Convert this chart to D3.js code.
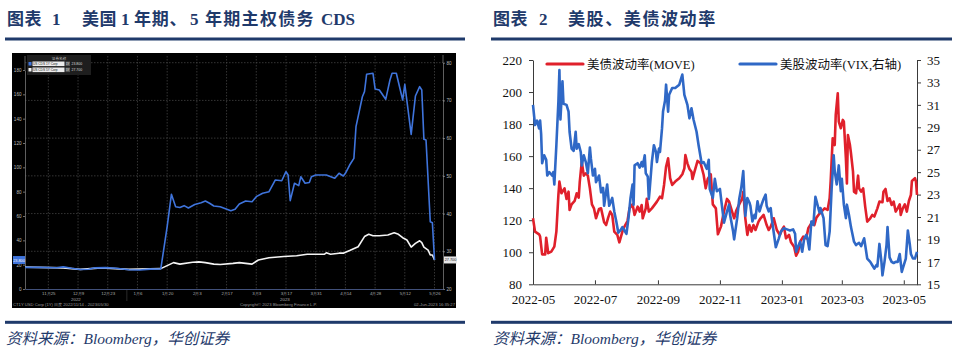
<!DOCTYPE html>
<html><head><meta charset="utf-8">
<script src="https://cdn.jsdelivr.net/npm/d3@7"></script>
<style>
body{margin:0;background:#fff;}
svg{display:block;}
</style></head><body>
<svg id="c" width="971" height="360"></svg>
<script>
// ---------------- LEFT CHART DATA (Bloomberg, US sovereign CDS) ----------------
const cdsRange = ["2022-11-14", "2023-05-30"];
const cds1Y = [["2022-11-14",17.8],["2022-11-21",17.8],["2022-11-29",17.5],["2022-12-02",18.2],["2022-12-06",17.0],["2022-12-10",16.0],["2022-12-14",16.2],["2022-12-17",17.4],["2022-12-22",17.6],["2022-12-27",17.0],["2023-01-02",15.8],["2023-01-07",15.6],["2023-01-12",16.3],["2023-01-17",16.5],["2023-01-20",51.2],["2023-01-22",77.8],["2023-01-24",67.6],["2023-01-26",67.0],["2023-01-28",68.5],["2023-01-30",66.6],["2023-02-02",69.5],["2023-02-05",70.9],["2023-02-07",72.3],["2023-02-09",70.5],["2023-02-11",68.2],["2023-02-14",67.6],["2023-02-19",64.4],["2023-02-21",65.5],["2023-02-23",69.9],["2023-02-26",72.3],["2023-03-01",71.7],["2023-03-03",75.9],["2023-03-06",78.7],["2023-03-09",80.0],["2023-03-12",89.6],["2023-03-15",89.0],["2023-03-17",96.4],["2023-03-18",93.7],["2023-03-19",72.6],["2023-03-21",86.9],["2023-03-23",85.0],["2023-03-24",92.3],["2023-03-26",86.9],["2023-03-28",87.5],["2023-03-29",92.3],["2023-03-31",93.7],["2023-04-05",93.7],["2023-04-09",91.0],["2023-04-11",95.1],["2023-04-13",92.9],["2023-04-14",95.1],["2023-04-16",101.9],["2023-04-18",107.4],["2023-04-19",133.4],["2023-04-22",158.0],["2023-04-23",162.2],["2023-04-24",176.5],["2023-04-27",177.3],["2023-04-28",164.4],["2023-04-30",163.6],["2023-05-03",155.9],["2023-05-05",171.8],["2023-05-06",177.3],["2023-05-08",177.3],["2023-05-11",155.3],["2023-05-12",168.2],["2023-05-15",127.1],["2023-05-17",158.6],["2023-05-19",166.3],["2023-05-20",163.6],["2023-05-21",123.0],["2023-05-22",122.5],["2023-05-24",55.3],["2023-05-25",54.5],["2023-05-26",23.8]];
const cds5Y = [["2022-11-14",25.8],["2022-12-02",25.6],["2022-12-10",25.2],["2022-12-20",25.6],["2023-01-02",25.2],["2023-01-17",25.4],["2023-01-23",27.0],["2023-01-26",26.6],["2023-02-01",27.1],["2023-02-04",27.2],["2023-02-07",27.0],["2023-02-11",26.6],["2023-02-14",26.5],["2023-02-20",26.8],["2023-02-23",27.0],["2023-03-01",26.6],["2023-03-04",27.7],["2023-03-09",28.3],["2023-03-16",28.6],["2023-03-22",28.8],["2023-03-27",29.2],["2023-04-04",29.2],["2023-04-05",29.6],["2023-04-07",29.2],["2023-04-11",29.5],["2023-04-13",29.5],["2023-04-16",30.2],["2023-04-20",31.2],["2023-04-23",33.9],["2023-04-25",34.5],["2023-04-27",34.1],["2023-04-30",34.1],["2023-05-04",34.3],["2023-05-07",34.9],["2023-05-09",34.5],["2023-05-11",33.6],["2023-05-13",33.0],["2023-05-15",31.1],["2023-05-17",32.1],["2023-05-19",32.8],["2023-05-20",32.3],["2023-05-21",31.1],["2023-05-23",30.3],["2023-05-24",29.0],["2023-05-25",29.0],["2023-05-26",27.7]];
const cdsLeftTicks = [0,20,40,60,80,100,120,140,160,180];
const cdsRightTicks = [20,30,40,50,60,70,80];
const cdsXTicks = ["2022-11-25","2022-12-09","2022-12-23","2023-01-06","2023-01-20","2023-02-03","2023-02-17","2023-03-03","2023-03-17","2023-03-31","2023-04-14","2023-04-28","2023-05-12","2023-05-26"];
const cdsYears = ["2022","2023"];
const cdsNames = ["US CDS 1Y Corp","US CDS 5Y Corp"];

// ---------------- RIGHT CHART DATA (MOVE / VIX) ----------------
const volRange = ["2022-05-01","2023-05-14"];
const moveSeries = [["2022-05-01",121.2],["2022-05-03",112.9],["2022-05-07",111.2],["2022-05-08",109.8],["2022-05-10",98.7],["2022-05-13",98.7],["2022-05-14",109.1],["2022-05-16",99.4],["2022-05-19",100.4],["2022-05-22",103.5],["2022-05-24",112.9],["2022-05-26",135.8],["2022-05-27",144.1],["2022-05-29",136.8],["2022-06-01",139.9],["2022-06-03",133.3],["2022-06-05",137.8],["2022-06-06",126.4],["2022-06-08",129.9],["2022-06-11",132.0],["2022-06-13",136.8],["2022-06-15",134.1],["2022-06-16",143.7],["2022-06-18",156.6],["2022-06-20",147.8],["2022-06-22",149.3],["2022-06-24",147.8],["2022-06-26",139.9],["2022-06-28",129.9],["2022-06-30",127.4],["2022-07-02",121.2],["2022-07-05",127.0],["2022-07-07",127.4],["2022-07-10",118.7],["2022-07-12",117.0],["2022-07-14",121.6],["2022-07-16",125.4],["2022-07-18",123.3],["2022-07-20",112.9],["2022-07-23",110.8],["2022-07-25",106.2],["2022-07-28",112.9],["2022-07-30",116.0],["2022-08-02",119.5],["2022-08-04",127.4],["2022-08-07",129.9],["2022-08-09",123.3],["2022-08-12",128.5],["2022-08-14",125.4],["2022-08-16",129.5],["2022-08-17",121.2],["2022-08-20",127.4],["2022-08-21",133.3],["2022-08-23",125.4],["2022-08-26",127.4],["2022-08-29",129.9],["2022-08-31",131.6],["2022-09-03",134.7],["2022-09-05",133.7],["2022-09-07",142.0],["2022-09-09",153.4],["2022-09-11",158.6],["2022-09-13",146.2],["2022-09-15",142.0],["2022-09-18",144.1],["2022-09-22",146.2],["2022-09-25",148.7],["2022-09-27",152.4],["2022-09-28",160.7],["2022-09-30",155.5],["2022-10-02",152.0],["2022-10-04",150.3],["2022-10-05",145.7],["2022-10-07",150.3],["2022-10-10",157.0],["2022-10-13",155.5],["2022-10-16",148.2],["2022-10-18",139.9],["2022-10-20",145.7],["2022-10-23",148.7],["2022-10-25",129.9],["2022-10-28",127.4],["2022-10-30",111.2],["2022-11-02",116.0],["2022-11-05",125.4],["2022-11-08",133.3],["2022-11-10",131.6],["2022-11-15",121.2],["2022-11-17",125.8],["2022-11-20",129.9],["2022-11-23",133.7],["2022-11-24",137.8],["2022-11-26",121.2],["2022-11-28",110.8],["2022-11-30",117.0],["2022-12-02",112.9],["2022-12-04",117.0],["2022-12-06",113.9],["2022-12-09",119.1],["2022-12-11",121.2],["2022-12-14",123.3],["2022-12-17",117.0],["2022-12-19",113.9],["2022-12-21",116.0],["2022-12-24",121.2],["2022-12-27",113.9],["2022-12-30",110.8],["2023-01-01",113.9],["2023-01-03",116.0],["2023-01-05",108.7],["2023-01-08",110.8],["2023-01-10",106.2],["2023-01-13",103.5],["2023-01-15",97.9],["2023-01-17",100.4],["2023-01-19",106.6],["2023-01-22",109.8],["2023-01-25",108.7],["2023-01-27",115.0],["2023-01-31",119.1],["2023-02-02",117.0],["2023-02-04",121.6],["2023-02-06",123.3],["2023-02-09",125.4],["2023-02-12",127.4],["2023-02-15",126.4],["2023-02-17",133.7],["2023-02-18",144.1],["2023-02-20",171.1],["2023-02-22",166.9],["2023-02-23",185.7],["2023-02-25",199.2],["2023-02-26",181.5],["2023-02-28",177.4],["2023-03-02",182.6],["2023-03-03",181.5],["2023-03-05",158.6],["2023-03-06",143.0],["2023-03-07",173.2],["2023-03-09",166.9],["2023-03-10",161.8],["2023-03-12",150.3],["2023-03-13",137.8],["2023-03-15",136.8],["2023-03-17",147.8],["2023-03-18",139.9],["2023-03-20",137.8],["2023-03-22",139.9],["2023-03-24",128.5],["2023-03-26",119.1],["2023-03-29",121.2],["2023-03-31",123.3],["2023-04-02",122.3],["2023-04-05",127.4],["2023-04-07",131.6],["2023-04-10",131.2],["2023-04-11",137.8],["2023-04-13",139.5],["2023-04-15",132.0],["2023-04-17",133.7],["2023-04-19",129.5],["2023-04-21",131.6],["2023-04-23",125.4],["2023-04-25",127.4],["2023-04-27",129.9],["2023-04-28",123.3],["2023-04-30",127.4],["2023-05-02",129.9],["2023-05-04",125.4],["2023-05-06",132.0],["2023-05-08",135.8],["2023-05-09",144.5],["2023-05-12",146.2],["2023-05-13",144.1],["2023-05-14",135.8]];
const vixSeries = [["2022-05-01",31.0],["2022-05-03",29.2],["2022-05-05",29.6],["2022-05-07",28.9],["2022-05-08",29.6],["2022-05-09",28.4],["2022-05-10",25.8],["2022-05-12",26.5],["2022-05-14",26.1],["2022-05-15",24.7],["2022-05-17",25.0],["2022-05-20",24.7],["2022-05-21",25.0],["2022-05-22",23.9],["2022-05-24",27.4],["2022-05-26",31.3],["2022-05-27",34.1],["2022-05-28",29.7],["2022-05-30",33.1],["2022-05-31",31.1],["2022-06-03",31.0],["2022-06-05",30.4],["2022-06-06",28.6],["2022-06-08",27.1],["2022-06-10",26.9],["2022-06-12",28.6],["2022-06-13",27.1],["2022-06-15",27.5],["2022-06-17",26.8],["2022-06-18",25.6],["2022-06-20",26.5],["2022-06-22",25.9],["2022-06-24",24.9],["2022-06-26",27.2],["2022-06-27",26.2],["2022-06-29",24.7],["2022-07-01",25.3],["2022-07-02",24.1],["2022-07-05",24.7],["2022-07-07",23.2],["2022-07-09",23.6],["2022-07-10",22.0],["2022-07-13",23.9],["2022-07-15",22.0],["2022-07-18",22.7],["2022-07-20",21.5],["2022-07-22",20.6],["2022-07-24",19.6],["2022-07-26",19.8],["2022-07-28",20.1],["2022-07-30",19.8],["2022-08-01",19.5],["2022-08-03",20.9],["2022-08-05",22.7],["2022-08-07",23.9],["2022-08-08",22.1],["2022-08-09",25.6],["2022-08-12",25.8],["2022-08-14",25.4],["2022-08-16",25.9],["2022-08-17",25.5],["2022-08-19",26.5],["2022-08-20",24.9],["2022-08-22",24.6],["2022-08-23",22.6],["2022-08-24",23.6],["2022-08-26",25.9],["2022-08-28",27.4],["2022-08-30",26.8],["2022-08-31",25.9],["2022-09-02",27.1],["2022-09-03",26.8],["2022-09-05",28.9],["2022-09-06",30.4],["2022-09-08",31.4],["2022-09-09",32.8],["2022-09-11",30.4],["2022-09-12",31.9],["2022-09-15",32.5],["2022-09-18",32.5],["2022-09-22",32.8],["2022-09-24",33.4],["2022-09-25",33.7],["2022-09-27",31.9],["2022-09-30",31.0],["2022-10-02",29.8],["2022-10-04",30.7],["2022-10-06",29.7],["2022-10-09",28.6],["2022-10-11",27.4],["2022-10-14",25.8],["2022-10-16",25.9],["2022-10-19",25.3],["2022-10-21",26.1],["2022-10-22",23.5],["2022-10-25",22.7],["2022-10-27",24.4],["2022-10-29",23.3],["2022-11-01",23.5],["2022-11-03",22.0],["2022-11-05",20.5],["2022-11-08",21.5],["2022-11-10",22.1],["2022-11-11",21.2],["2022-11-14",19.7],["2022-11-15",19.0],["2022-11-18",20.9],["2022-11-20",22.6],["2022-11-22",23.6],["2022-11-24",25.1],["2022-11-25",23.0],["2022-11-26",21.1],["2022-11-28",22.7],["2022-11-30",22.3],["2022-12-01",22.0],["2022-12-03",20.6],["2022-12-05",21.2],["2022-12-06",20.9],["2022-12-08",22.4],["2022-12-10",21.5],["2022-12-12",22.1],["2022-12-14",22.6],["2022-12-16",23.0],["2022-12-17",22.0],["2022-12-19",21.5],["2022-12-21",21.8],["2022-12-22",20.9],["2022-12-24",19.6],["2022-12-26",18.3],["2022-12-29",19.1],["2022-12-31",19.7],["2023-01-03",20.0],["2023-01-06",19.9],["2023-01-09",19.8],["2023-01-12",19.9],["2023-01-14",19.5],["2023-01-15",17.9],["2023-01-17",18.4],["2023-01-19",18.8],["2023-01-21",17.9],["2023-01-23",19.1],["2023-01-25",19.4],["2023-01-26",19.2],["2023-01-28",18.1],["2023-01-30",20.6],["2023-02-01",20.3],["2023-02-03",22.8],["2023-02-05",22.1],["2023-02-07",21.4],["2023-02-08",21.8],["2023-02-11",20.9],["2023-02-13",18.5],["2023-02-15",18.4],["2023-02-17",19.7],["2023-02-19",23.6],["2023-02-21",26.5],["2023-02-22",25.1],["2023-02-24",23.9],["2023-02-26",25.6],["2023-02-28",23.3],["2023-03-01",24.4],["2023-03-03",22.1],["2023-03-05",20.9],["2023-03-06",22.1],["2023-03-08",21.2],["2023-03-10",20.1],["2023-03-13",18.8],["2023-03-15",18.5],["2023-03-18",18.7],["2023-03-20",18.4],["2023-03-23",19.1],["2023-03-24",18.5],["2023-03-26",17.3],["2023-03-29",17.0],["2023-03-31",16.7],["2023-04-02",16.4],["2023-04-04",16.7],["2023-04-05",16.6],["2023-04-07",18.6],["2023-04-09",17.0],["2023-04-10",15.8],["2023-04-12",17.0],["2023-04-14",18.5],["2023-04-15",20.1],["2023-04-17",17.4],["2023-04-19",17.0],["2023-04-21",16.9],["2023-04-23",17.0],["2023-04-25",17.0],["2023-04-27",17.7],["2023-04-29",16.1],["2023-05-01",16.7],["2023-05-03",17.3],["2023-05-05",19.8],["2023-05-07",18.5],["2023-05-08",17.7],["2023-05-10",17.3],["2023-05-12",17.3],["2023-05-14",17.9]];
const volLeftTicks = [80,100,120,140,160,180,200,220];
const volRightTicks = [15,17,19,21,23,25,27,29,31,33,35];
const volXTicks = ["2022-05-01","2022-07-01","2022-09-01","2022-11-01","2023-01-01","2023-03-01","2023-05-01"];
const volNames = ["美债波动率(MOVE)","美股波动率(VIX,右轴)"];

// ---------------- DRAW ----------------
const P = d3.timeParse("%Y-%m-%d");
const svg = d3.select("#c");
const NAVY = "#1f3a6b";
const SERIF = "'Liberation Serif','Times New Roman','Noto Sans CJK SC',serif";

// ---- titles, rules, sources ----
function title(parts, y) {
  const t = svg.append("text").attr("y", y).attr("fill", NAVY)
    .attr("font-family", SERIF).attr("font-weight", "bold").attr("font-size", 17);
  parts.forEach(p => t.append("tspan").attr("x", p[0]).attr("letter-spacing", p[2] || 0).text(p[1]));
}
title([[7,"图表",0.5],[52,"1"],[82,"美国",0.5],[121,"1"],[134,"年期、",0.8],[190,"5"],[205,"年期主权债务",1.3],[321,"CDS"]], 25);
title([[493,"图表",0.5],[539,"2"],[568,"美股、美债波动率",1.6]], 25);
[[5,465],[491,952]].forEach(r => {
  svg.append("rect").attr("x", r[0]).attr("y", 37.5).attr("width", r[1]-r[0]).attr("height", 3).attr("fill", NAVY);
  svg.append("rect").attr("x", r[0]).attr("y", 320.8).attr("width", r[1]-r[0]).attr("height", 3).attr("fill", NAVY);
});
[6, 493].forEach(x => svg.append("text").attr("x", x).attr("y", 344).attr("fill", NAVY)
  .attr("font-family", SERIF).attr("font-style", "italic").attr("font-size", 15.5)
  .text("资料来源：Bloomberg，华创证券"));

// ---- LEFT: Bloomberg style chart ----
const gL = svg.append("g");
gL.append("rect").attr("x", 12).attr("y", 53).attr("width", 444).attr("height", 255).attr("fill", "#000");
const xL = d3.scaleTime().domain(cdsRange.map(P)).range([25, 443]);
const yL = d3.scaleLinear().domain([0, 180]).range([289, 70]);
const yR = d3.scaleLinear().domain([20, 80]).range([289, 62.7]);

// grid
gL.append("g").selectAll("line").data(cdsRightTicks.slice(1)).join("line")
  .attr("x1", 25).attr("x2", 443).attr("y1", d => yR(d)).attr("y2", d => yR(d))
  .attr("stroke", "#4a4a4a").attr("stroke-width", 0.7).attr("stroke-dasharray", "1.5,1.5");
gL.append("g").selectAll("line").data(cdsXTicks.map(P)).join("line")
  .attr("x1", d => xL(d)).attr("x2", d => xL(d)).attr("y1", 56).attr("y2", 289)
  .attr("stroke", "#4a4a4a").attr("stroke-width", 0.7).attr("stroke-dasharray", "1.5,1.5");

const tinyFont = "'Liberation Sans',Arial,sans-serif";
function styleTiny(g, fs, col) {
  g.selectAll("text").attr("font-size", fs).attr("fill", col).attr("font-family", tinyFont);
  g.selectAll(".tick line").attr("stroke", "#bbb").attr("stroke-width", 0.6);
}
const axL = gL.append("g").attr("transform", "translate(25,0)")
  .call(d3.axisLeft(yL).tickValues(cdsLeftTicks).tickSizeInner(2).tickSizeOuter(0).tickPadding(1.5));
axL.select(".domain").attr("stroke", "#777").attr("stroke-width", 0.8);
styleTiny(axL, 4.6, "#bbb");
gL.append("line").attr("x1", 25).attr("x2", 25).attr("y1", 56).attr("y2", 70).attr("stroke", "#777").attr("stroke-width", 0.8);

const axR = gL.append("g").attr("transform", "translate(443,0)")
  .call(d3.axisRight(yR).tickValues(cdsRightTicks).tickSizeInner(2).tickSizeOuter(0).tickPadding(1.5));
axR.select(".domain").attr("stroke", "#777").attr("stroke-width", 0.8);
styleTiny(axR, 4.6, "#bbb");
gL.append("line").attr("x1", 443).attr("x2", 443).attr("y1", 55).attr("y2", 63).attr("stroke", "#777").attr("stroke-width", 0.8);

const axB = gL.append("g").attr("transform", "translate(0,289)")
  .call(d3.axisBottom(xL).tickValues(cdsXTicks.map(P)).tickFormat(d3.timeFormat("%-m月%-d")).tickSize(0).tickPadding(3));
axB.select(".domain").attr("stroke", "#41507a").attr("stroke-width", 1.2);
styleTiny(axB, 4.4, "#aaa");
const jan1 = P("2023-01-01");
[[ (xL.range()[0] + xL(jan1)) / 2, cdsYears[0]], [(xL(jan1) + xL.range()[1]) / 2, cdsYears[1]]].forEach(d =>
  gL.append("text").attr("x", d[0]).attr("y", 300.5).attr("text-anchor", "middle")
    .attr("font-size", 4.4).attr("fill", "#aaa").attr("font-family", tinyFont).text(d[1]));
gL.append("line").attr("x1", xL(jan1)).attr("x2", xL(jan1)).attr("y1", 290).attr("y2", 301).attr("stroke", "#555").attr("stroke-width", 0.5);

// footer
[[13, "start", "CT1Y USD Corp (1Y)  日度 2022/11/14 - 2023/05/30"], [240, "start", "Copyright© 2023 Bloomberg Finance L.P."], [455, "end", "02-Jun-2023 16:35:27"]]
  .forEach(d => gL.append("text").attr("x", d[0]).attr("y", 305.8).attr("text-anchor", d[1])
    .attr("font-size", 4.2).attr("fill", "#999").attr("font-family", tinyFont).text(d[2]));

// lines
const toPts = s => s.map(d => ({ date: P(d[0]), v: d[1] }));
const p1 = toPts(cds1Y), p5 = toPts(cds5Y);
gL.append("path").datum(p5).attr("fill", "none").attr("stroke", "#f4f4f4").attr("stroke-width", 1.6)
  .attr("stroke-linejoin", "round").attr("d", d3.line().x(d => xL(d.date)).y(d => yR(d.v)));
gL.append("path").datum(p1).attr("fill", "none").attr("stroke", "#3f74dc").attr("stroke-width", 1.6)
  .attr("stroke-linejoin", "round").attr("d", d3.line().x(d => xL(d.date)).y(d => yL(d.v)));

// last-value tags
const last1 = p1[p1.length - 1].v, last5 = p5[p5.length - 1].v;
const fmt = d3.format(".3f");
gL.append("rect").attr("x", 13).attr("y", yL(last1) - 4).attr("width", 12).attr("height", 8).attr("fill", "#3f74dc");
gL.append("text").attr("x", 19).attr("y", yL(last1) + 1.5).attr("text-anchor", "middle").attr("font-size", 3.8)
  .attr("fill", "#fff").attr("font-family", tinyFont).text(fmt(last1));
gL.append("rect").attr("x", 444).attr("y", yR(last5) - 3.5).attr("width", 13).attr("height", 7).attr("fill", "#e6e6e6");
gL.append("text").attr("x", 450.5).attr("y", yR(last5) + 1.4).attr("text-anchor", "middle").attr("font-size", 3.8)
  .attr("fill", "#222").attr("font-family", tinyFont).text(fmt(last5));

// legend
const lg = gL.append("g");
lg.append("rect").attr("x", 27).attr("y", 55).attr("width", 64).attr("height", 20).attr("fill", "#1e1e1e");
lg.append("text").attr("x", 59).attr("y", 59.8).attr("text-anchor", "middle").attr("font-size", 3.6)
  .attr("fill", "#bbb").attr("font-family", "'Noto Sans CJK SC',sans-serif").text("证券名称");
[[cdsNames[0], "#3f74dc", last1, "1Y"], [cdsNames[1], "#f4f4f4", last5, "5Y"]].forEach((d, i) => {
  const y = 62 + i * 6;
  lg.append("rect").attr("x", 28.5).attr("y", y).attr("width", 3).attr("height", 3.5).attr("fill", d[1]);
  lg.append("rect").attr("x", 32.5).attr("y", y - 0.5).attr("width", 32).attr("height", 4.6).attr("fill", "#ececec");
  lg.append("text").attr("x", 33).attr("y", y + 3).attr("font-size", 3.2).attr("fill", "#222").attr("font-family", tinyFont).text(d[0]);
  lg.append("rect").attr("x", 65.5).attr("y", y - 0.5).attr("width", 4.5).attr("height", 4.6).attr("fill", "#555");
  lg.append("text").attr("x", 66).attr("y", y + 3).attr("font-size", 2.8).attr("fill", "#eee").attr("font-family", tinyFont).text(d[3]);
  lg.append("text").attr("x", 71.5).attr("y", y + 3).attr("font-size", 3.5).attr("fill", "#ddd").attr("font-family", tinyFont).text(fmt(d[2]));
});

// ---- RIGHT: MOVE / VIX chart ----
const gR = svg.append("g");
const xV = d3.scaleTime().domain(volRange.map(P)).range([533, 917]);
const yM = d3.scaleLinear().domain([80, 220]).range([284.3, 60]);
const yX = d3.scaleLinear().domain([15, 35]).range([284.3, 60]);
const AX = "#3a3a3a";
function styleAxis(g) {
  g.select(".domain").attr("stroke", AX).attr("stroke-width", 1);
  g.selectAll(".tick line").attr("stroke", AX).attr("stroke-width", 1);
  g.selectAll("text").attr("font-family", SERIF).attr("font-size", 13).attr("fill", "#111");
}
styleAxis(gR.append("g").attr("transform", "translate(533,0)")
  .call(d3.axisLeft(yM).tickValues(volLeftTicks).tickSizeInner(4).tickSizeOuter(0).tickPadding(7)));
styleAxis(gR.append("g").attr("transform", "translate(917,0)")
  .call(d3.axisRight(yX).tickValues(volRightTicks).tickSizeInner(4).tickSizeOuter(0).tickPadding(6)));
styleAxis(gR.append("g").attr("transform", "translate(0,284.3)")
  .call(d3.axisBottom(xV).tickValues(volXTicks.map(P)).tickFormat(d3.timeFormat("%Y-%m")).tickSizeInner(-4).tickSizeOuter(0).tickPadding(10)));

const RED = "#e0202b", BLUE = "#2f68c6";
gR.append("path").datum(toPts(moveSeries)).attr("fill", "none").attr("stroke", RED).attr("stroke-width", 2.6)
  .attr("stroke-linejoin", "round").attr("d", d3.line().x(d => xV(d.date)).y(d => yM(d.v)));
gR.append("path").datum(toPts(vixSeries)).attr("fill", "none").attr("stroke", BLUE).attr("stroke-width", 2.6)
  .attr("stroke-linejoin", "round").attr("d", d3.line().x(d => xV(d.date)).y(d => yX(d.v)));

// legend
[[547, RED, volNames[0]], [740, BLUE, volNames[1]]].forEach(d => {
  gR.append("line").attr("x1", d[0]).attr("x2", d[0] + 36).attr("y1", 64).attr("y2", 64)
    .attr("stroke", d[1]).attr("stroke-width", 3.2).attr("stroke-linecap", "round");
  gR.append("text").attr("x", d[0] + 40).attr("y", 68.5).attr("font-family", SERIF).attr("font-size", 12.5)
    .attr("fill", "#111").text(d[2]);
});
</script></body></html>
